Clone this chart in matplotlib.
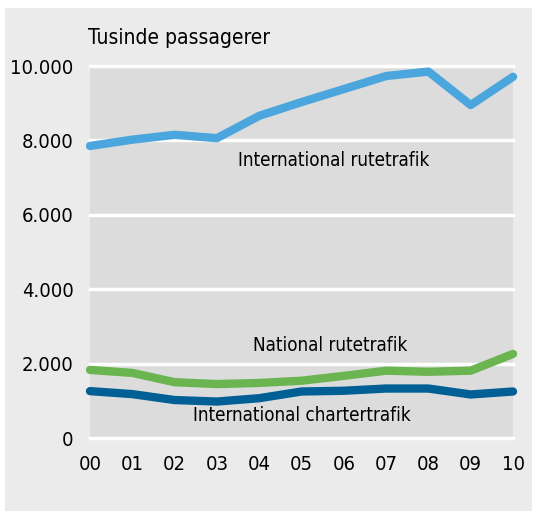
import matplotlib
matplotlib.use("Agg")
import matplotlib.pyplot as plt
from matplotlib.patches import Rectangle

plt.rcParams['font.family'] = ['DejaVu Sans']
plt.rcParams['font.stretch'] = 'condensed'

years = ['00', '01', '02', '03', '04', '05', '06', '07', '08', '09', '10']
intl_rute = [7850, 8020, 8150, 8060, 8660, 9030, 9380, 9730, 9850, 8950, 9710]
natl_rute = [1830, 1750, 1500, 1450, 1480, 1540, 1670, 1810, 1780, 1810, 2260]
intl_charter = [1260, 1180, 1020, 980, 1070, 1250, 1270, 1330, 1330, 1170, 1250]

fig = plt.figure(figsize=(5.33, 5.11), dpi=100)
fig.patch.set_facecolor('white')
fig.patches.append(Rectangle((5 / 533, 0), 527 / 533, 503 / 511,
                             transform=fig.transFigure, facecolor='#ebebeb',
                             edgecolor='none', zorder=-5))

ax = fig.add_axes([90 / 533, 73 / 511, 423 / 533, 372 / 511])
ax.set_facecolor('#dcdcdc')
x = range(len(years))

ax.plot(x, intl_rute, color='#4aa6dd', lw=6, solid_capstyle='round',
        solid_joinstyle='round', clip_on=False, zorder=3)
ax.plot(x, natl_rute, color='#6ab54f', lw=6, solid_capstyle='round',
        solid_joinstyle='round', clip_on=False, zorder=3)
ax.plot(x, intl_charter, color='#005f94', lw=6, solid_capstyle='round',
        solid_joinstyle='round', clip_on=False, zorder=3)

ax.set_xlim(0, 10)
ax.set_ylim(0, 10000)
yt = [0, 2000, 4000, 6000, 8000, 10000]
ax.set_yticks(yt)
ax.set_yticklabels(['0', '2.000', '4.000', '6.000', '8.000', '10.000'])
ax.set_xticks(list(x))
ax.set_xticklabels(years)
ax.tick_params(length=0, labelsize=14.5, pad=12)
ax.tick_params(axis='x', pad=12)
for v in yt:
    ax.axhline(v, color='white', lw=2.5, zorder=1, clip_on=False)
for s in ax.spines.values():
    s.set_visible(False)

fig.text(88 / 533, 1 - 38 / 511, 'Tusinde passagerer', fontsize=15,
         ha='left', va='center')
ax.text(5.76, 7450, 'International rutetrafik', fontsize=13.5, ha='center', va='center')
ax.text(5.67, 2500, 'National rutetrafik', fontsize=13.5, ha='center', va='center')
ax.text(5.02, 600, 'International chartertrafik', fontsize=13.5, ha='center', va='center')

fig.savefig('out.png', dpi=100)
